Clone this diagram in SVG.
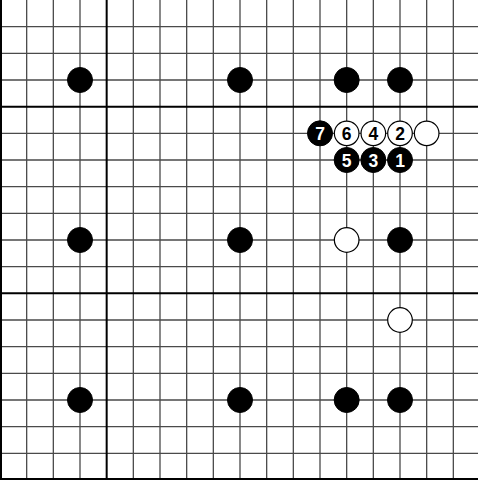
<svg xmlns="http://www.w3.org/2000/svg" width="478" height="480" viewBox="0 0 478 480">
<style>
.g{stroke:#4a4a4a;stroke-width:1.3;fill:none}
.t{stroke:#000;stroke-width:2;fill:none}
.b{fill:#000;stroke:#000;stroke-width:1}
.w{fill:#fff;stroke:#000;stroke-width:1.2}
.n{font-family:"Liberation Sans",Arial,sans-serif;font-weight:bold;font-size:17.5px;text-anchor:middle;dominant-baseline:central}
.nw{fill:#fff}
.nb{fill:#000}
</style>
<rect width="478" height="480" fill="#fff"/>
<g id="connectors">
<path class="g" d="M26.67 0V480M53.33 0V480M80 0V480M133.33 0V480M160 0V480M186.67 0V480M213.33 0V480M240 0V480M266.67 0V480M293.33 0V480M320 0V480M346.67 0V480M373.33 0V480M400 0V480M426.67 0V480M453.33 0V480"/>
<path class="g" d="M0 26.67H478M0 53.33H478M0 80H478M0 133.33H478M0 160H478M0 186.67H478M0 213.33H478M0 240H478M0 266.67H478M0 320H478M0 346.67H478M0 373.33H478M0 400H478M0 426.67H478M0 453.33H478"/>
<path class="t" d="M106.67 0V480M0 106.67H478M0 293.33H478M1 0V480M0 479H478"/>
</g>
<g id="stones-black">
<circle class="b" cx="80" cy="80" r="12.5"/>
<circle class="b" cx="240" cy="80" r="12.5"/>
<circle class="b" cx="346.67" cy="80" r="12.5"/>
<circle class="b" cx="400" cy="80" r="12.5"/>
<circle class="b" cx="80" cy="240" r="12.5"/>
<circle class="b" cx="240" cy="240" r="12.5"/>
<circle class="b" cx="400" cy="240" r="12.5"/>
<circle class="b" cx="80" cy="400" r="12.5"/>
<circle class="b" cx="240" cy="400" r="12.5"/>
<circle class="b" cx="346.67" cy="400" r="12.5"/>
<circle class="b" cx="400" cy="400" r="12.5"/>
</g>
<g id="stones-white">
<circle class="w" cx="346.67" cy="240" r="12.3"/>
<circle class="w" cx="400" cy="320" r="12.3"/>
<circle class="w" cx="426.67" cy="133.33" r="12.3"/>
</g>
<g id="move1"><circle class="b" cx="400" cy="160" r="12.5"/><text class="n nw" x="400" y="161">1</text></g>
<g id="move2"><circle class="w" cx="400" cy="133.33" r="12.3"/><text class="n nb" x="400" y="134.3">2</text></g>
<g id="move3"><circle class="b" cx="373.33" cy="160" r="12.5"/><text class="n nw" x="373.33" y="161">3</text></g>
<g id="move4"><circle class="w" cx="373.33" cy="133.33" r="12.3"/><text class="n nb" x="373.33" y="134.3">4</text></g>
<g id="move5"><circle class="b" cx="346.67" cy="160" r="12.5"/><text class="n nw" x="346.67" y="161">5</text></g>
<g id="move6"><circle class="w" cx="346.67" cy="133.33" r="12.3"/><text class="n nb" x="346.67" y="134.3">6</text></g>
<g id="move7"><circle class="b" cx="320" cy="133.33" r="12.5"/><text class="n nw" x="320" y="134.3">7</text></g>
</svg>
